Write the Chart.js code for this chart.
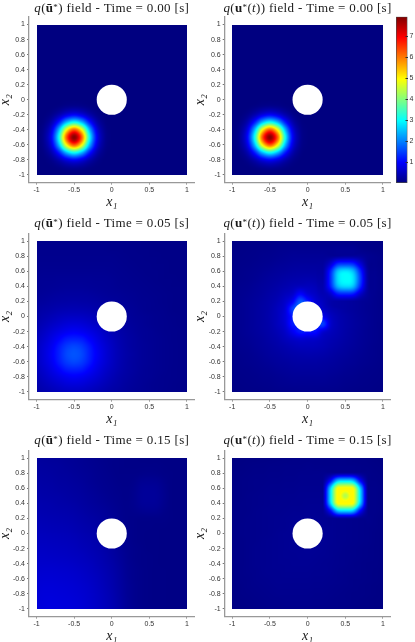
<!DOCTYPE html>
<html>
<head>
<meta charset="utf-8">
<script src="https://cdn.jsdelivr.net/npm/chart.js@4"></script>
<style>
  html, body { margin: 0; background: #fff; width: 415px; height: 642px; overflow: hidden; }
  canvas { position: absolute; }
</style>
</head>
<body>
<script>
// grid nodes of the field at 0.1 spacing
const gridX = [-1,-.9,-.8,-.7,-.6,-.5,-.4,-.3,-.2,-.1,0,.1,.2,.3,.4,.5,.6,.7,.8,.9,1];
const gridY = [1,.9,.8,.7,.6,.5,.4,.3,.2,.1,0,-.1,-.2,-.3,-.4,-.5,-.6,-.7,-.8,-.9,-1];

const xTickValues = [-1,-.5,0,.5,1];
const yTickValues = [-1,-.8,-.6,-.4,-.2,0,.2,.4,.6,.8,1];
const barTickValues = [1,2,3,4,5,6,7];
const barRange = [0.02,7.92];
const times = ["0.00","0.05","0.15"];
const holeCenter = [0,0];
const holeRadius = 0.2;

// t = 0.00, same in both columns
const fieldStart = [
[.02,.02,.02,.02,.02,.02,.02,.02,.02,.02,.02,.02,.02,.02,.02,.02,.02,.02,.02,.02,.02],
[.02,.02,.02,.02,.02,.02,.02,.02,.02,.02,.02,.02,.02,.02,.02,.02,.02,.02,.02,.02,.02],
[.02,.02,.02,.02,.02,.02,.02,.02,.02,.02,.02,.02,.02,.02,.02,.02,.02,.02,.02,.02,.02],
[.02,.02,.02,.02,.02,.02,.02,.02,.02,.02,.02,.02,.02,.02,.02,.02,.02,.02,.02,.02,.02],
[.02,.02,.02,.02,.02,.02,.02,.02,.02,.02,.02,.02,.02,.02,.02,.02,.02,.02,.02,.02,.02],
[.02,.02,.02,.02,.02,.02,.02,.02,.02,.02,.02,.02,.02,.02,.02,.02,.02,.02,.02,.02,.02],
[.02,.02,.02,.02,.02,.02,.02,.02,.02,.02,.02,.02,.02,.02,.02,.02,.02,.02,.02,.02,.02],
[.02,.02,.02,.02,.02,.02,.02,.02,.02,.02,.02,.02,.02,.02,.02,.02,.02,.02,.02,.02,.02],
[.02,.02,.02,.02,.02,.02,.02,.02,.02,.02,.02,.02,.02,.02,.02,.02,.02,.02,.02,.02,.02],
[.02,.02,.02,.02,.02,.02,.02,.02,.02,.02,.02,.02,.02,.02,.02,.02,.02,.02,.02,.02,.02],
[.02,.02,.02,.02,.03,.03,.03,.02,.02,.02,.02,.02,.02,.02,.02,.02,.02,.02,.02,.02,.02],
[.02,.02,.03,.08,.16,.2,.16,.08,.03,.02,.02,.02,.02,.02,.02,.02,.02,.02,.02,.02,.02],
[.02,.03,.13,.4,.79,1,.79,.4,.13,.03,.02,.02,.02,.02,.02,.02,.02,.02,.02,.02,.02],
[.02,.08,.4,1.26,2.5,3.14,2.5,1.26,.4,.08,.02,.02,.02,.02,.02,.02,.02,.02,.02,.02,.02],
[.03,.16,.79,2.5,4.96,6.24,4.96,2.5,.79,.16,.03,.02,.02,.02,.02,.02,.02,.02,.02,.02,.02],
[.03,.2,1,3.14,6.24,7.85,6.24,3.14,1,.2,.03,.02,.02,.02,.02,.02,.02,.02,.02,.02,.02],
[.03,.16,.79,2.5,4.96,6.24,4.96,2.5,.79,.16,.03,.02,.02,.02,.02,.02,.02,.02,.02,.02,.02],
[.02,.08,.4,1.26,2.5,3.14,2.5,1.26,.4,.08,.02,.02,.02,.02,.02,.02,.02,.02,.02,.02,.02],
[.02,.03,.13,.4,.79,1,.79,.4,.13,.03,.02,.02,.02,.02,.02,.02,.02,.02,.02,.02,.02],
[.02,.02,.03,.08,.16,.2,.16,.08,.03,.02,.02,.02,.02,.02,.02,.02,.02,.02,.02,.02,.02],
[.02,.02,.02,.02,.03,.03,.03,.02,.02,.02,.02,.02,.02,.02,.02,.02,.02,.02,.02,.02,.02]
];

// left column, t = 0.05
const fieldMeanMid = [
[.11,.11,.11,.11,.11,.11,.11,.11,.11,.11,.1,.1,.1,.09,.09,.08,.08,.08,.08,.08,.08],
[.12,.12,.12,.12,.12,.12,.12,.12,.12,.12,.11,.11,.1,.1,.09,.09,.08,.08,.08,.08,.08],
[.13,.13,.13,.13,.13,.13,.13,.13,.13,.13,.13,.12,.11,.1,.1,.09,.09,.08,.08,.08,.08],
[.14,.14,.14,.14,.14,.14,.14,.14,.14,.14,.14,.13,.12,.11,.1,.1,.09,.09,.08,.08,.08],
[.15,.16,.16,.16,.16,.16,.16,.16,.16,.16,.15,.14,.13,.12,.11,.1,.1,.09,.08,.08,.08],
[.17,.18,.18,.19,.19,.19,.19,.19,.18,.18,.17,.15,.14,.13,.12,.11,.1,.09,.09,.08,.08],
[.18,.19,.2,.21,.22,.22,.22,.21,.2,.19,.18,.16,.15,.14,.13,.12,.11,.1,.09,.09,.08],
[.2,.22,.24,.26,.27,.27,.27,.26,.24,.22,.2,.19,.17,.16,.14,.13,.12,.11,.1,.09,.08],
[.24,.26,.29,.31,.32,.33,.32,.31,.29,.26,.24,.21,.19,.17,.15,.14,.125,.11,.1,.09,.09],
[.28,.32,.35,.39,.41,.42,.41,.39,.35,.32,.28,.24,.21,.19,.16,.14,.13,.12,.1,.09,.09],
[.32,.38,.44,.5,.54,.55,.54,.5,.44,.38,.32,.28,.24,.2,.18,.16,.14,.125,.11,.1,.09],
[.38,.46,.55,.63,.7,.72,.7,.63,.55,.46,.38,.32,.26,.22,.19,.16,.14,.13,.115,.1,.09],
[.44,.55,.68,.8,.9,.95,.9,.8,.68,.55,.44,.35,.29,.24,.2,.18,.15,.13,.12,.11,.1],
[.5,.63,.8,1,1.2,1.25,1.2,1,.8,.63,.5,.39,.31,.26,.21,.18,.16,.14,.12,.11,.1],
[.54,.7,.9,1.2,1.45,1.55,1.45,1.2,.9,.7,.54,.41,.32,.26,.22,.19,.16,.14,.125,.11,.1],
[.55,.72,.95,1.25,1.55,1.65,1.55,1.25,.95,.72,.55,.42,.33,.27,.22,.19,.16,.14,.125,.11,.1],
[.54,.7,.9,1.2,1.45,1.55,1.45,1.2,.9,.7,.54,.41,.32,.26,.22,.19,.16,.14,.125,.11,.1],
[.5,.63,.8,1,1.2,1.25,1.2,1,.8,.63,.5,.39,.31,.26,.21,.18,.16,.14,.12,.11,.1],
[.44,.55,.68,.8,.9,.95,.9,.8,.68,.55,.44,.35,.29,.24,.2,.18,.15,.13,.12,.11,.1],
[.38,.46,.55,.63,.7,.72,.7,.63,.55,.46,.38,.32,.26,.22,.19,.16,.14,.13,.115,.1,.09],
[.32,.38,.44,.5,.54,.55,.54,.5,.44,.38,.32,.28,.24,.2,.18,.16,.14,.125,.11,.1,.09]
];

// right column, t = 0.05
const fieldOptMid = [
[.06,.07,.08,.08,.09,.1,.11,.12,.12,.13,.13,.13,.12,.12,.11,.1,.09,.08,.08,.07,.06],
[.07,.08,.09,.1,.11,.12,.14,.15,.16,.16,.16,.16,.16,.16,.18,.18,.18,.12,.09,.08,.07],
[.08,.09,.1,.11,.13,.14,.16,.18,.2,.2,.2,.2,.2,.2,.22,.26,.26,.24,.16,.12,.09],
[.08,.1,.11,.13,.15,.17,.2,.22,.24,.25,.25,.25,.25,.6,1.3,1.4,1.3,.7,.18,.12,.09],
[.09,.11,.13,.15,.18,.21,.24,.26,.29,.3,.3,.3,.28,1.2,2.5,2.8,2.5,1.3,.25,.14,.1],
[.1,.12,.14,.17,.21,.25,.28,.32,.35,.37,.38,.36,.33,1.3,2.7,3,2.8,1.5,.27,.15,.1],
[.11,.14,.16,.2,.24,.28,.33,.38,.44,.5,.5,.45,.38,1.2,2.4,2.7,2.5,1.3,.26,.15,.1],
[.12,.15,.18,.22,.26,.32,.38,.48,.6,1,.7,.55,.42,.6,1.2,1.3,1.2,.6,.22,.14,.1],
[.12,.16,.2,.24,.29,.35,.44,.6,.95,1.7,1.2,.7,.5,.35,.3,.28,.24,.2,.17,.13,.1],
[.13,.16,.2,.25,.3,.37,.5,.7,1.5,1.9,1.5,.9,.6,.42,.34,.28,.24,.2,.16,.13,.1],
[.13,.16,.2,.25,.3,.38,.5,.72,1.2,1.3,1.2,1,.9,.55,.4,.32,.26,.21,.17,.13,.11],
[.13,.16,.2,.25,.3,.37,.5,.68,1.2,1.2,1,1.1,1.5,.65,.42,.33,.27,.22,.17,.13,.1],
[.12,.16,.2,.24,.29,.35,.44,.58,.9,1.2,1.1,1.1,.7,.5,.4,.32,.26,.21,.16,.13,.1],
[.12,.15,.18,.22,.26,.32,.38,.48,.58,.65,.62,.6,.5,.42,.36,.3,.25,.2,.16,.13,.1],
[.11,.14,.16,.2,.24,.28,.33,.38,.44,.48,.48,.47,.43,.37,.32,.27,.23,.19,.15,.12,.1],
[.1,.12,.14,.17,.21,.25,.28,.32,.35,.37,.38,.37,.35,.31,.27,.24,.2,.17,.14,.12,.09],
[.09,.11,.13,.15,.18,.21,.24,.26,.29,.3,.3,.3,.28,.26,.23,.2,.18,.15,.13,.11,.09],
[.08,.1,.11,.13,.15,.17,.2,.22,.24,.25,.25,.25,.24,.22,.2,.17,.15,.13,.11,.1,.08],
[.08,.09,.1,.11,.13,.14,.16,.18,.2,.2,.2,.2,.2,.18,.16,.14,.13,.11,.1,.09,.08],
[.07,.08,.09,.1,.11,.12,.14,.15,.16,.16,.16,.16,.16,.15,.14,.12,.11,.1,.09,.08,.07],
[.06,.07,.08,.08,.09,.1,.11,.12,.12,.13,.13,.13,.12,.12,.11,.1,.09,.08,.08,.07,.06]
];

// left column, t = 0.15
const fieldMeanEnd = [
[.25,.24,.23,.22,.2,.19,.17,.15,.13,.11,.1,.09,.08,.08,.07,.07,.07,.06,.06,.06,.06],
[.27,.26,.25,.24,.22,.2,.18,.16,.14,.12,.1,.09,.08,.08,.08,.08,.08,.07,.06,.06,.06],
[.29,.28,.27,.25,.24,.22,.2,.18,.15,.13,.11,.09,.09,.09,.1,.11,.1,.08,.07,.06,.06],
[.31,.3,.29,.27,.26,.24,.22,.19,.16,.14,.12,.1,.09,.11,.16,.17,.16,.11,.07,.06,.06],
[.33,.32,.31,.29,.28,.26,.24,.21,.18,.15,.13,.11,.1,.13,.2,.21,.2,.13,.07,.06,.06],
[.35,.34,.33,.32,.3,.28,.26,.23,.2,.17,.14,.12,.1,.14,.21,.22,.21,.14,.07,.06,.06],
[.38,.37,.36,.34,.33,.31,.28,.25,.22,.19,.16,.13,.11,.14,.2,.21,.2,.13,.07,.06,.06],
[.4,.39,.38,.37,.36,.34,.31,.28,.25,.22,.18,.14,.11,.12,.15,.16,.15,.1,.07,.06,.06],
[.43,.42,.41,.4,.39,.37,.34,.31,.28,.24,.2,.15,.11,.1,.09,.09,.09,.08,.07,.06,.06],
[.46,.45,.44,.43,.42,.4,.37,.34,.3,.26,.22,.17,.12,.1,.08,.08,.07,.07,.06,.06,.06],
[.49,.48,.47,.46,.45,.43,.4,.37,.33,.28,.24,.18,.13,.1,.08,.07,.07,.06,.06,.06,.06],
[.51,.51,.5,.49,.48,.46,.43,.4,.36,.31,.26,.2,.14,.1,.08,.07,.07,.06,.06,.06,.06],
[.54,.54,.53,.52,.51,.49,.46,.43,.39,.34,.28,.21,.15,.11,.09,.07,.07,.06,.06,.06,.06],
[.57,.57,.56,.55,.54,.52,.5,.46,.42,.37,.3,.23,.16,.11,.09,.08,.07,.06,.06,.06,.06],
[.6,.6,.6,.59,.58,.56,.53,.5,.45,.39,.33,.25,.17,.12,.09,.08,.07,.06,.06,.06,.06],
[.63,.64,.64,.63,.62,.6,.57,.53,.48,.42,.35,.27,.18,.13,.1,.08,.07,.07,.06,.06,.06],
[.66,.67,.67,.66,.65,.63,.6,.56,.51,.44,.37,.28,.19,.13,.1,.08,.07,.07,.06,.06,.06],
[.68,.7,.7,.69,.68,.66,.63,.59,.53,.46,.38,.29,.2,.14,.1,.08,.07,.07,.06,.06,.06],
[.7,.72,.72,.71,.7,.68,.65,.61,.55,.48,.4,.3,.2,.14,.1,.08,.07,.07,.06,.06,.06],
[.71,.73,.74,.73,.72,.7,.67,.62,.56,.49,.41,.31,.21,.14,.1,.08,.07,.07,.06,.06,.06],
[.72,.74,.75,.74,.73,.71,.68,.63,.57,.5,.42,.32,.21,.15,.11,.09,.08,.07,.06,.06,.06]
];

// right column, t = 0.15
const fieldOptEnd = [
[.04,.05,.06,.06,.07,.07,.08,.08,.09,.09,.09,.09,.09,.09,.09,.09,.08,.08,.07,.06,.05],
[.05,.06,.07,.08,.08,.09,.09,.1,.1,.1,.11,.1,.1,.1,.1,.1,.1,.09,.08,.07,.06],
[.06,.07,.08,.09,.09,.1,.1,.11,.11,.12,.12,.12,.13,.16,.22,.24,.22,.16,.1,.08,.07],
[.06,.08,.09,.1,.1,.11,.11,.12,.12,.13,.13,.13,.15,1,2.5,2.7,2.5,1,.12,.09,.07],
[.07,.08,.09,.1,.11,.12,.12,.13,.13,.14,.14,.14,.16,2.5,4.9,5,4.9,2.5,.14,.1,.08],
[.07,.08,.1,.11,.12,.13,.13,.14,.14,.15,.15,.15,.17,2.7,5,4.35,5,2.7,.15,.1,.08],
[.07,.09,.1,.11,.12,.13,.14,.14,.15,.15,.16,.16,.17,2.5,4.9,5,4.9,2.5,.14,.1,.08],
[.08,.09,.1,.12,.13,.14,.14,.15,.16,.16,.17,.17,.16,1,2.5,2.7,2.5,1,.13,.1,.08],
[.08,.09,.11,.12,.13,.14,.15,.16,.17,.18,.18,.18,.17,.15,.2,.22,.2,.14,.12,.09,.07],
[.08,.1,.11,.12,.13,.14,.15,.16,.18,.19,.19,.19,.18,.16,.14,.13,.12,.11,.1,.09,.07],
[.08,.1,.11,.12,.13,.14,.16,.17,.18,.2,.2,.2,.18,.16,.14,.13,.12,.11,.1,.08,.07],
[.08,.09,.11,.12,.14,.15,.16,.17,.18,.19,.2,.19,.18,.16,.14,.13,.12,.11,.1,.08,.07],
[.08,.09,.11,.13,.14,.15,.16,.17,.18,.18,.19,.18,.17,.15,.14,.12,.11,.1,.09,.08,.07],
[.08,.09,.11,.13,.14,.15,.16,.17,.17,.18,.18,.17,.16,.15,.13,.12,.11,.1,.09,.08,.07],
[.08,.09,.11,.13,.14,.15,.16,.16,.17,.17,.17,.16,.15,.14,.13,.12,.1,.09,.08,.08,.06],
[.07,.09,.11,.12,.14,.15,.15,.16,.16,.16,.16,.15,.15,.14,.12,.11,.1,.09,.08,.07,.06],
[.07,.09,.1,.12,.13,.14,.15,.15,.15,.15,.15,.14,.14,.13,.12,.11,.09,.09,.08,.07,.06],
[.07,.08,.1,.11,.12,.13,.14,.14,.14,.14,.14,.13,.13,.12,.11,.1,.09,.08,.07,.06,.05],
[.06,.08,.09,.1,.11,.12,.13,.13,.13,.13,.13,.12,.12,.11,.1,.09,.08,.08,.07,.06,.05],
[.06,.07,.08,.09,.1,.11,.11,.12,.12,.12,.12,.11,.11,.1,.09,.09,.08,.07,.06,.05,.05],
[.05,.06,.07,.08,.09,.1,.1,.11,.11,.11,.11,.1,.1,.09,.09,.08,.07,.06,.06,.05,.04]
];

const fieldsByRow = [
  [fieldStart, fieldStart],
  [fieldMeanMid, fieldOptMid],
  [fieldMeanEnd, fieldOptEnd],
];

// layout, in page pixels
const tickFont = { family: "'Liberation Sans', Arial, sans-serif", size: 7 };
const axisFont = { family: "'Liberation Serif', serif", size: 14, style: "italic", lineHeight: 1 };
const axisColor = "#999";
const tickColor = "#333";
const rowLayout = [
  { top: 0, titleY: 9, axisTop: 17, axisBottom: 182.5 },
  { top: 215, titleY: 9, axisTop: 18.5, axisBottom: 184.5 },
  { top: 430, titleY: 11, axisTop: 20.5, axisBottom: 186.5 },
];
const colLayout = [
  { left: 0, width: 205, axisLeft: 29, axisRight: 194.5, spacing: 0.33 },
  { left: 195, width: 210, axisLeft: 29.7, axisRight: 195.5, spacing: 0.33 },
];

function clamp01(a) {
  return Math.max(0, Math.min(1, a));
}

function jet(v) {
  const t = (v - barRange[0]) / (barRange[1] - barRange[0]);
  return [
    clamp01(Math.min(4 * t - 1.5, -4 * t + 4.5)) * 255,
    clamp01(Math.min(4 * t - 0.5, -4 * t + 3.5)) * 255,
    clamp01(Math.min(4 * t + 0.5, -4 * t + 2.5)) * 255,
  ];
}

// cubic between b and c, kept inside their range so plateaus don't ring
function catmull(a, b, c, d, s) {
  const v = b + 0.5 * s * (c - a + s * (2 * a - 5 * b + 4 * c - d + s * (3 * (b - c) + d - a)));
  return Math.max(Math.min(b, c), Math.min(Math.max(b, c), v));
}

// shading of the nodes between grid lines, like interp shading of a surface plot
function sampleField(points, gx, gy) {
  const n = gridX.length;
  const at = (i, j) => {
    i = Math.max(0, Math.min(n - 1, i));
    j = Math.max(0, Math.min(n - 1, j));
    return points[j * n + i].v;
  };
  const i = Math.floor(gx), j = Math.floor(gy);
  const rows = [];
  for (let k = -1; k <= 2; k++) {
    rows.push(catmull(at(i - 1, j + k), at(i, j + k), at(i + 1, j + k), at(i + 2, j + k), gx - i));
  }
  return catmull(rows[0], rows[1], rows[2], rows[3], gy - j);
}

const fieldPlugin = {
  id: "fieldLayer",
  beforeDatasetsDraw(chart) {
    const { ctx, scales } = chart;
    const x = scales.x, y = scales.y;
    const points = chart.data.datasets[0].data;
    const x0 = x.getPixelForValue(gridX[0]), x1 = x.getPixelForValue(gridX[gridX.length - 1]);
    const y0 = y.getPixelForValue(gridY[0]), y1 = y.getPixelForValue(gridY[gridY.length - 1]);
    const w = Math.round(x1 - x0), h = Math.round(y1 - y0);
    const off = document.createElement("canvas");
    off.width = w;
    off.height = h;
    const octx = off.getContext("2d");
    const img = octx.createImageData(w, h);
    for (let py = 0; py < h; py++) {
      for (let px = 0; px < w; px++) {
        const gx = (px + 0.5) / w * (gridX.length - 1);
        const gy = (py + 0.5) / h * (gridY.length - 1);
        const c = jet(sampleField(points, gx, gy));
        const o = (py * w + px) * 4;
        img.data[o] = c[0];
        img.data[o + 1] = c[1];
        img.data[o + 2] = c[2];
        img.data[o + 3] = 255;
      }
    }
    octx.putImageData(img, 0, 0);
    ctx.drawImage(off, x0, y0, x1 - x0, y1 - y0);
    // the cylinder
    ctx.fillStyle = "#fff";
    ctx.beginPath();
    ctx.ellipse(
      x.getPixelForValue(holeCenter[0]),
      y.getPixelForValue(holeCenter[1]),
      Math.abs(x.getPixelForValue(holeRadius) - x.getPixelForValue(0)),
      Math.abs(y.getPixelForValue(holeRadius) - y.getPixelForValue(0)),
      0, 0, Math.PI * 2
    );
    ctx.fill();
  },
};

// title with mixed math and roman text
function titleRuns(col, time) {
  const serif = "'Liberation Serif', serif";
  const runs = [{ text: "q", font: "italic 13px " + serif }, { text: "(", font: "13px " + serif }];
  if (col === 0) {
    runs.push({ text: "ū", font: "bold 13px " + serif });
    runs.push({ text: "*", font: "9px " + serif, rise: 1.5 });
    runs.push({ text: ")", font: "13px " + serif });
  } else {
    runs.push({ text: "u", font: "bold 13px " + serif });
    runs.push({ text: "*", font: "9px " + serif, rise: 1.5 });
    runs.push({ text: "(", font: "13px " + serif });
    runs.push({ text: "t", font: "italic 13px " + serif });
    runs.push({ text: "))", font: "13px " + serif });
  }
  runs.push({ text: " field - Time = " + time + " [s]", font: "13px " + serif });
  return runs;
}

const titlePlugin = {
  id: "mixedTitle",
  afterDraw(chart, args, opts) {
    const { ctx, chartArea } = chart;
    ctx.save();
    ctx.fillStyle = "#1a1a1a";
    ctx.textBaseline = "middle";
    ctx.textAlign = "left";
    ctx.letterSpacing = opts.spacing + "px";
    let width = 0;
    for (const r of opts.runs) {
      ctx.font = r.font;
      width += ctx.measureText(r.text).width;
    }
    let px = (chartArea.left + chartArea.right) / 2 - width / 2;
    for (const r of opts.runs) {
      ctx.font = r.font;
      ctx.fillText(r.text, px, opts.y - (r.rise || 0));
      px += ctx.measureText(r.text).width;
    }
    ctx.restore();
  },
};

function addCanvas(left, top, width, height) {
  const canvas = document.createElement("canvas");
  canvas.width = width;
  canvas.height = height;
  canvas.style.left = left + "px";
  canvas.style.top = top + "px";
  canvas.style.width = width + "px";
  canvas.style.height = height + "px";
  document.body.appendChild(canvas);
  return canvas.getContext("2d");
}

function makePanel(rowIdx, colIdx) {
  const row = rowLayout[rowIdx], col = colLayout[colIdx];
  const height = Math.ceil(row.axisBottom + 32);
  const field = fieldsByRow[rowIdx][colIdx];
  const points = [];
  gridY.forEach((gy, j) => gridX.forEach((gx, i) => points.push({ x: gx, y: gy, v: field[j][i] })));
  new Chart(addCanvas(col.left, row.top, col.width, height), {
    type: "scatter",
    data: { datasets: [{ data: points, pointRadius: 0, pointHoverRadius: 0 }] },
    plugins: [fieldPlugin, titlePlugin],
    options: {
      responsive: false,
      animation: false,
      events: [],
      layout: {
        padding: {
          left: 0,
          top: row.axisTop,
          right: col.width - col.axisRight,
          bottom: height - row.axisBottom - 32,
        },
      },
      plugins: {
        legend: { display: false },
        tooltip: { enabled: false },
        mixedTitle: { runs: titleRuns(colIdx, times[rowIdx]), y: row.titleY, spacing: col.spacing },
      },
      scales: {
        x: {
          type: "linear",
          min: -1.1,
          max: 1.1,
          afterBuildTicks: (s) => { s.ticks = xTickValues.map((v) => ({ value: v })); },
          afterFit: (s) => { s.height = 32; },
          border: { color: axisColor, width: 1.3 },
          grid: { drawOnChartArea: false, drawTicks: true, tickLength: 2, color: "#777" },
          ticks: { font: tickFont, color: tickColor, padding: 1, maxRotation: 0, autoSkip: false, callback: (v) => String(v) },
          title: { display: true, text: "x₁", font: axisFont, color: "#1a1a1a", padding: { top: 5, bottom: 5 } },
        },
        y: {
          type: "linear",
          min: -1.1,
          max: 1.1,
          afterBuildTicks: (s) => { s.ticks = yTickValues.map((v) => ({ value: v })); },
          afterFit: (s) => { s.width = col.axisLeft; },
          border: { color: axisColor, width: 1.3 },
          grid: { drawOnChartArea: false, drawTicks: true, tickLength: 2, color: "#777" },
          ticks: { font: tickFont, color: tickColor, padding: 2, autoSkip: false, callback: (v) => String(v) },
          title: { display: true, text: "x₂", font: axisFont, color: "#1a1a1a", padding: { top: -2, bottom: 0 } },
        },
      },
    },
  });
}

function makeColorbar() {
  new Chart(addCanvas(385, 0, 30, 200), {
    type: "bar",
    data: {
      labels: ["q"],
      datasets: [{
        data: [barRange],
        barPercentage: 1,
        categoryPercentage: 1,
        borderColor: "#4a4a4a",
        borderWidth: 1,
        borderSkipped: false,
        backgroundColor: (c) => {
          const area = c.chart.chartArea;
          if (!area) return "#000080";
          const g = c.chart.ctx.createLinearGradient(0, area.bottom, 0, area.top);
          for (let k = 0; k <= 32; k++) {
            const rgb = jet(barRange[0] + (barRange[1] - barRange[0]) * k / 32);
            g.addColorStop(k / 32, `rgb(${rgb[0]},${rgb[1]},${rgb[2]})`);
          }
          return g;
        },
      }],
    },
    options: {
      responsive: false,
      animation: false,
      events: [],
      layout: { padding: { left: 11, top: 16.7, right: 0, bottom: 17 } },
      plugins: { legend: { display: false }, tooltip: { enabled: false } },
      scales: {
        x: { display: false },
        y: {
          position: "right",
          min: barRange[0],
          max: barRange[1],
          afterBuildTicks: (s) => { s.ticks = barTickValues.map((v) => ({ value: v })); },
          afterFit: (s) => { s.width = 7.5; },
          border: { display: false },
          grid: { drawOnChartArea: false, drawTicks: true, tickLength: -2, color: "#333", z: 1 },
          ticks: { font: tickFont, color: tickColor, padding: 4, autoSkip: false, callback: (v) => String(v) },
        },
      },
    },
  });
}

for (let r = 0; r < rowLayout.length; r++) {
  for (let c = 0; c < colLayout.length; c++) {
    makePanel(r, c);
  }
}
makeColorbar();
</script>
</body>
</html>
